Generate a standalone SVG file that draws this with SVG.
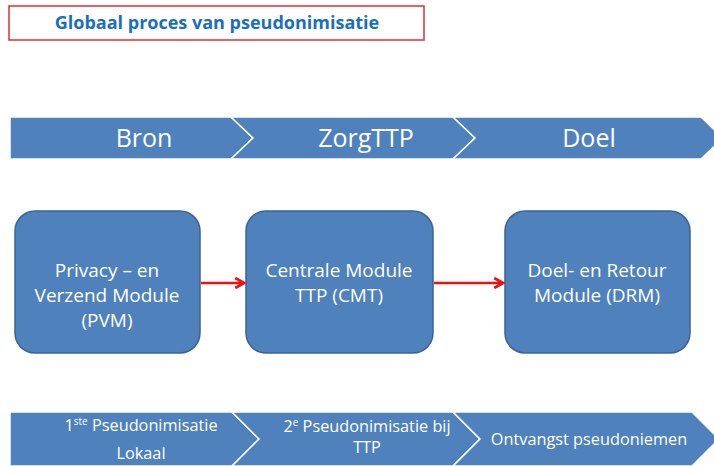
<svg xmlns="http://www.w3.org/2000/svg" width="714" height="466" viewBox="0 0 714 466">
<defs>
<style>
.band{fill:#4F81BD;stroke:#FFFFFF;stroke-width:1.5}
.box{fill:#4F81BD;stroke:#3A6491;stroke-width:1.5}
.bt{font-family:"Open Sans",sans-serif;font-size:25px;fill:#FFFFFF;text-anchor:middle}
.nt{font-family:"Open Sans",sans-serif;font-size:19px;fill:#FFFFFF;text-anchor:middle}
.st{font-family:"Open Sans",sans-serif;font-size:16.3px;fill:#FFFFFF;text-anchor:middle}
.sup{font-size:10px}
.conn{stroke:#EE1111;stroke-width:2.5;fill:none}
</style>
<marker id="arr" viewBox="0 0 10 10" refX="8.5" refY="5" markerWidth="5" markerHeight="5" orient="auto" markerUnits="strokeWidth">
<path d="M1.5,1 L8.5,5 L1.5,9" fill="none" stroke="#EE1111" stroke-width="2.2"/>
</marker>
</defs>
<g id="title">
<rect x="9" y="6" width="415" height="34" fill="#FFFFFF" stroke="#E03030" stroke-width="1.5"/>
<text x="217" y="29" font-family="Open Sans, sans-serif" font-size="18" font-weight="bold" fill="#1A6EBF" text-anchor="middle">Globaal proces van pseudonimisatie</text>
</g>
<g id="stage-bron">
<polygon class="band" points="10,117 231,117 253,138 231,159 10,159"/>
<text class="bt" x="144" y="147">Bron</text>
</g>
<g id="stage-zorgttp">
<polygon class="band" points="231,117 453,117 475,138 453,159 231,159 253,138"/>
<text class="bt" x="366" y="147">ZorgTTP</text>
</g>
<g id="stage-doel">
<polygon class="band" points="453,117 701,117 723,138 701,159 453,159 475,138"/>
<text class="bt" x="589" y="147">Doel</text>
</g>
<g id="node-pvm">
<rect class="box" x="15" y="211" width="185" height="142" rx="20" ry="20"/>
<text class="nt" x="107" y="277">Privacy – en</text>
<text class="nt" x="107" y="302">Verzend Module</text>
<text class="nt" x="107" y="327">(PVM)</text>
</g>
<g id="node-cmt">
<rect class="box" x="246" y="211" width="187" height="142" rx="20" ry="20"/>
<text class="nt" x="339" y="277">Centrale Module</text>
<text class="nt" x="339" y="302">TTP (CMT)</text>
</g>
<g id="node-drm">
<rect class="box" x="505" y="211" width="185" height="142" rx="20" ry="20"/>
<text class="nt" x="597" y="277">Doel- en Retour</text>
<text class="nt" x="597" y="302">Module (DRM)</text>
</g>
<g id="connectors">
<line class="conn" x1="201" y1="283" x2="244" y2="283" marker-end="url(#arr)"/>
<line class="conn" x1="434" y1="283" x2="503" y2="283" marker-end="url(#arr)"/>
</g>
<g id="step-1">
<polygon class="band" points="10,412 232,412 259,439 232,466 10,466"/>
<text class="st" x="141" y="431">1<tspan class="sup" dy="-6">ste</tspan><tspan dy="6"> Pseudonimisatie</tspan></text>
<text class="st" x="141" y="459">Lokaal</text>
</g>
<g id="step-2">
<polygon class="band" points="232,412 453,412 480,439 453,466 232,466 259,439"/>
<text class="st" x="367" y="432">2<tspan class="sup" dy="-6">e</tspan><tspan dy="6"> Pseudonimisatie bij</tspan></text>
<text class="st" x="367" y="453">TTP</text>
</g>
<g id="step-3">
<polygon class="band" points="453,412 692,412 719,439 692,466 453,466 480,439"/>
<text class="st" x="589" y="445">Ontvangst pseudoniemen</text>
</g>
</svg>
